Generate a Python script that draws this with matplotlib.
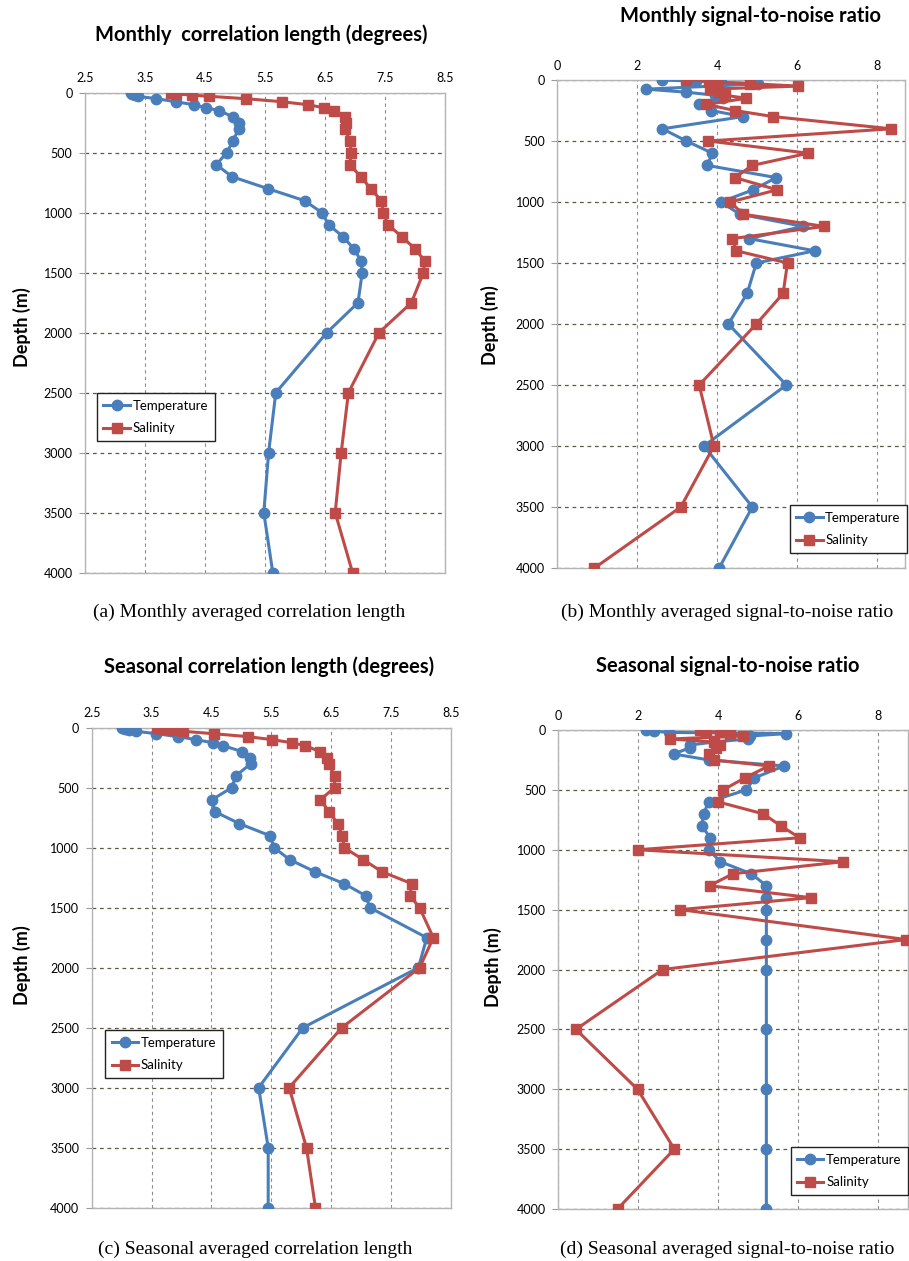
import matplotlib
matplotlib.use("Agg")
import matplotlib.pyplot as plt

# standard depth levels (m)
depth = [0, 10, 20, 30, 50, 75, 100, 125, 150, 200, 250, 300, 400, 500, 600,
         700, 800, 900, 1000, 1100, 1200, 1300, 1400, 1500, 1750, 2000,
         2500, 3000, 3500, 4000]

# (a) monthly correlation length (degrees)
mon_len_temp = [3.26, 3.29, 3.33, 3.38, 3.69, 4.01, 4.31, 4.52, 4.74, 4.96, 5.06, 5.06,
                4.97, 4.86, 4.69, 4.95, 5.55, 6.16, 6.45, 6.56, 6.80, 6.98, 7.10, 7.12,
                7.05, 6.53, 5.68, 5.56, 5.48, 5.63]
mon_len_sal = [3.93, 4.01, 4.28, 4.57, 5.18, 5.78, 6.21, 6.48, 6.65, 6.83, 6.85, 6.84,
               6.91, 6.94, 6.91, 7.10, 7.26, 7.44, 7.47, 7.55, 7.78, 8.00, 8.16, 8.14,
               7.94, 7.40, 6.89, 6.77, 6.67, 6.96]

# (b) monthly signal-to-noise ratio
mon_snr_temp = [2.61, 3.46, 4.10, 5.03, 3.90, 2.22, 3.23, 3.95, 4.15, 3.55, 3.85, 4.65,
                2.63, 3.23, 3.88, 3.75, 5.48, 4.90, 4.09, 4.57, 6.15, 4.80, 6.44, 4.98,
                4.75, 4.28, 5.73, 3.67, 4.88, 4.05]
mon_snr_sal = [3.23, 3.80, 4.00, 4.83, 6.03, 3.82, 4.05, 4.20, 4.73, 3.73, 4.44, 5.40,
               8.36, 3.78, 6.28, 4.88, 4.44, 5.50, 4.33, 4.65, 6.68, 4.38, 4.48, 5.76,
               5.65, 4.98, 3.55, 3.92, 3.09, 0.93]

# (c) seasonal correlation length (degrees)
sea_len_temp = [3.00, 3.06, 3.13, 3.24, 3.58, 3.95, 4.25, 4.52, 4.70, 5.02, 5.15, 5.16,
                4.91, 4.84, 4.51, 4.56, 4.97, 5.48, 5.55, 5.81, 6.23, 6.72, 7.08, 7.15,
                8.10, 7.96, 6.03, 5.29, 5.45, 5.45]
sea_len_sal = [3.59, 3.67, 3.85, 4.03, 4.54, 5.12, 5.52, 5.84, 6.07, 6.32, 6.43, 6.46,
               6.56, 6.56, 6.32, 6.47, 6.61, 6.69, 6.72, 7.04, 7.35, 7.85, 7.82, 7.98,
               8.21, 7.98, 6.68, 5.80, 6.09, 6.24]

# (d) seasonal signal-to-noise ratio
sea_snr_temp = [2.20, 2.38, 2.76, 5.70, 4.80, 4.74, 3.90, 3.30, 3.28, 2.88, 3.76, 5.64,
                4.90, 4.70, 3.76, 3.63, 3.58, 3.80, 3.76, 4.05, 4.82, 5.20, 5.20, 5.20,
                5.20, 5.20, 5.20, 5.20, 5.20, 5.20]
sea_snr_sal = [3.54, 3.69, 4.05, 4.30, 4.62, 2.80, 3.90, 4.05, 3.95, 3.76, 3.88, 5.26,
               4.66, 4.12, 3.99, 5.12, 5.56, 6.03, 1.99, 7.12, 4.37, 3.78, 6.31, 3.05,
               8.69, 2.61, 0.44, 1.98, 2.90, 1.48]

len_ticks = [2.5, 3.5, 4.5, 5.5, 6.5, 7.5, 8.5]
snr_ticks = [0, 2, 4, 6, 8]
depth_ticks = [0, 500, 1000, 1500, 2000, 2500, 3000, 3500, 4000]

BLUE = '#4a7ebb'
RED = '#be4b48'
W, H = 909, 1261
TICKFONT = 'Lato'


def px_box(left, top, right, bottom):
    return [left / W, 1 - bottom / H, (right - left) / W, (bottom - top) / H]


def draw_panel(fig, box, temp, sal, xlim, xticks, xfmt, leg_anchor):
    ax = fig.add_axes(box)
    ax.plot(temp, depth, color=BLUE, lw=2.2, marker='o', ms=7.5, label='Temperature', zorder=3)
    ax.plot(sal, depth, color=RED, lw=2.2, marker='s', ms=7.2, label='Salinity', zorder=4)
    ax.set_xlim(*xlim)
    ax.set_ylim(4000, 0)
    ax.set_xticks(xticks)
    ax.set_xticklabels([xfmt.format(v) for v in xticks], fontfamily=TICKFONT, fontsize=9)
    ax.set_yticks(depth_ticks)
    ax.set_yticklabels([str(v) for v in depth_ticks], fontfamily=TICKFONT, fontsize=9)
    ax.xaxis.tick_top()
    ax.tick_params(axis='x', length=0, pad=6)
    ax.tick_params(axis='y', length=4, color='#9a9a9a', pad=5)
    ax.xaxis.grid(True, color='#8c8c8c', ls=(0, (3, 3)), lw=0.8)
    ax.yaxis.grid(True, color='#5e5a40', ls=(0, (3, 3)), lw=0.9)
    ax.set_axisbelow(True)
    for s in ax.spines.values():
        s.set_color('#b4b4b4')
        s.set_linewidth(1.0)
    leg = ax.legend(loc='upper left', bbox_to_anchor=leg_anchor, borderaxespad=0,
                    fancybox=False, edgecolor='#222222', framealpha=1,
                    prop={'family': TICKFONT, 'size': 9.5}, handlelength=2.0,
                    handletextpad=0.2, labelspacing=0.8, borderpad=0.5)
    leg.get_frame().set_linewidth(1.0)
    return ax


fig = plt.figure(figsize=(W / 100, H / 100), dpi=100)

draw_panel(fig, px_box(85, 92.7, 445, 572.7), mon_len_temp, mon_len_sal,
           (2.5, 8.5), len_ticks, '{:.1f}', (0.033, 0.374))
draw_panel(fig, px_box(557.3, 80, 905, 568), mon_snr_temp, mon_snr_sal,
           (0, 8.7), snr_ticks, '{:d}', (0.668, 0.129))
draw_panel(fig, px_box(91.7, 727.7, 450.7, 1207.7), sea_len_temp, sea_len_sal,
           (2.5, 8.5), len_ticks, '{:.1f}', (0.037, 0.370))
draw_panel(fig, px_box(558.3, 730, 908, 1209), sea_snr_temp, sea_snr_sal,
           (0, 8.74), snr_ticks, '{:d}', (0.664, 0.129))


def ftext(x, y, s, **kw):
    fig.text(x / W, 1 - y / H, s, ha='center', va='center', **kw)


title_kw = dict(fontfamily='Lato', fontweight='bold', fontsize=14.5)
ftext(261, 35, 'Monthly  correlation length (degrees)', **title_kw)
ftext(750, 16, 'Monthly signal-to-noise ratio', **title_kw)
ftext(269, 667, 'Seasonal correlation length (degrees)', **title_kw)
ftext(728, 666, 'Seasonal signal-to-noise ratio', **title_kw)

ylab_kw = dict(fontfamily='Lato', fontweight='bold', fontsize=13, rotation=90)
ftext(22, 327, 'Depth (m)', **ylab_kw)
ftext(490, 325, 'Depth (m)', **ylab_kw)
ftext(22, 965, 'Depth (m)', **ylab_kw)
ftext(493, 967, 'Depth (m)', **ylab_kw)

cap_kw = dict(fontfamily='Liberation Serif', fontsize=14)
ftext(249, 612, '(a) Monthly averaged correlation length', **cap_kw)
ftext(727, 612, '(b) Monthly averaged signal-to-noise ratio', **cap_kw)
ftext(255, 1249, '(c) Seasonal averaged correlation length', **cap_kw)
ftext(727, 1249, '(d) Seasonal averaged signal-to-noise ratio', **cap_kw)

fig.savefig('out.png', dpi=100)
